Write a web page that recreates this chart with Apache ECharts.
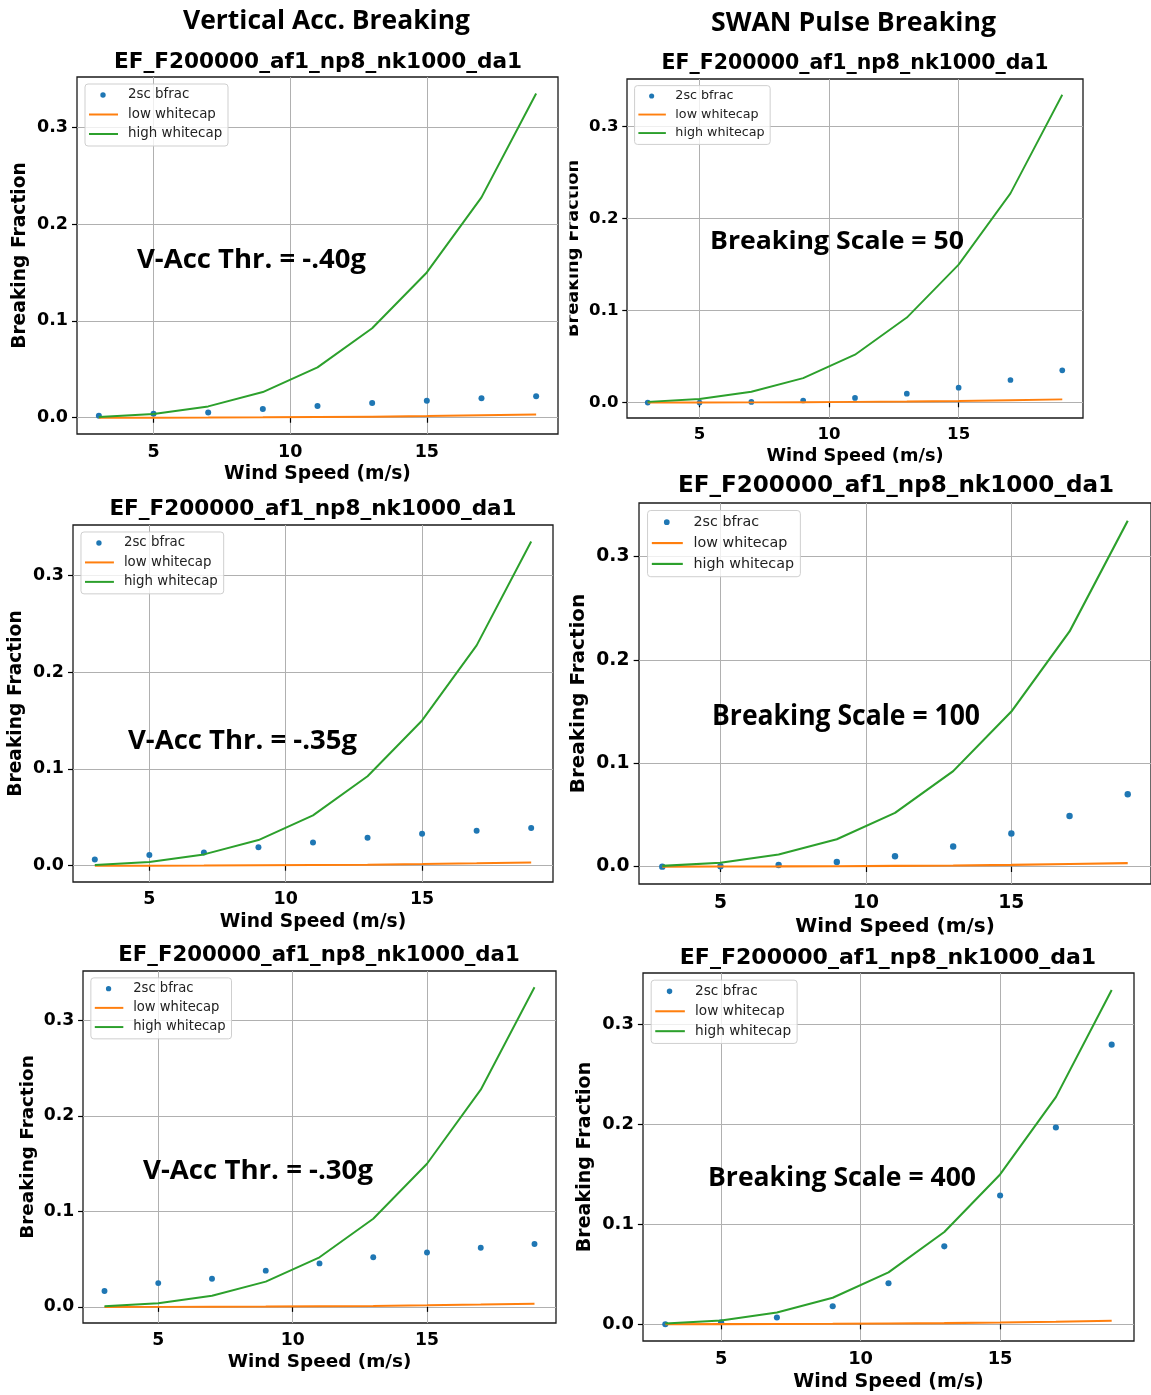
<!DOCTYPE html>
<html><head><meta charset="utf-8">
<script src="https://cdn.jsdelivr.net/npm/echarts@6/dist/echarts.min.js"></script>
<style>html,body{margin:0;padding:0;background:#fff}#c{width:1151px;height:1395px}</style>
</head><body><div id="c"></div>
<script>
// ---------------- data ----------------
const windSpeed = [3, 5, 7, 9, 11, 13, 15, 17, 19];
const lowWhitecap  = [0.00005, 0.0001, 0.0002, 0.0004, 0.0007, 0.0011, 0.0017, 0.0025, 0.0034];
const highWhitecap = [0.0007, 0.0038, 0.0117, 0.0265, 0.052, 0.0924, 0.150, 0.2275, 0.3347];
const bfracAcc40   = [0.002, 0.0041, 0.0055, 0.0089, 0.012, 0.0151, 0.0175, 0.020, 0.0223];
const bfracScale50 = [0.0, 0.0, 0.0007, 0.0022, 0.005, 0.0097, 0.0162, 0.0245, 0.035];
const bfracAcc35   = [0.0065, 0.011, 0.0137, 0.019, 0.024, 0.029, 0.033, 0.036, 0.039];
const bfracScale100= [0.0, 0.0003, 0.0016, 0.0045, 0.010, 0.0195, 0.032, 0.049, 0.070];
const bfracAcc30   = [0.0167, 0.025, 0.0296, 0.038, 0.0456, 0.052, 0.057, 0.062, 0.066];
const bfracScale400= [0.0, 0.002, 0.0067, 0.018, 0.041, 0.078, 0.129, 0.197, 0.28];
const xTicks = [5, 10, 15];
const yTicks = [0, 0.1, 0.2, 0.3];
const subplotTitle = 'EF_F200000_af1_np8_nk1000_da1';
const columnTitles = ['Vertical Acc. Breaking', 'SWAN Pulse Breaking'];
const annotations = ['V-Acc Thr. = -.40g', 'Breaking Scale = 50', 'V-Acc Thr. = -.35g',
                     'Breaking Scale = 100', 'V-Acc Thr. = -.30g', 'Breaking Scale = 400'];
const seriesNames = ['2sc bfrac', 'low whitecap', 'high whitecap'];
const xLabel = 'Wind Speed (m/s)';
const yLabel = 'Breaking Fraction';
const bfracSets = [bfracAcc40, bfracScale50, bfracAcc35, bfracScale100, bfracAcc30, bfracScale400];

// ---------------- layout ----------------
const layout = [
  {l: 77,  t: 77,  r: 558,  b: 434,  tx: 318, ty: 62,  ax: 137, ay: 260.5, aw: 229},
  {l: 627, t: 79,  r: 1083, b: 418,  tx: 855, ty: 64,  ax: 710, ay: 241.5, aw: 254},
  {l: 73,  t: 525, r: 553,  b: 882,  tx: 313, ty: 509, ax: 128, ay: 741.5, aw: 229},
  {l: 639, t: 503, r: 1153, b: 884,  tx: 896, ty: 486, ax: 712, ay: 716.5, aw: 268},
  {l: 83,  t: 971, r: 556,  b: 1323, tx: 319, ty: 955, ax: 143, ay: 1171.5, aw: 230},
  {l: 643, t: 973, r: 1134, b: 1341, tx: 888, ty: 958, ax: 708, ay: 1178.5, aw: 268}
];
const colTitleLayout = [{x: 183, y: 21.5, w: 287}, {x: 711, y: 23.5, w: 285}];

const C_BLUE = '#1f77b4', C_ORANGE = '#ff7f0e', C_GREEN = '#2ca02c';
const FONT = '"DejaVu Sans", sans-serif';
const CAL = '"Open Sans", "Noto Sans", sans-serif';

const mctx = document.createElement('canvas').getContext('2d');
function fitScale(text, font, w) { mctx.font = font; return w / mctx.measureText(text).width; }

const grids = [], xAxes = [], yAxes = [], series = [], graphics = [];

layout.forEach((p, i) => {
  const s = (p.r - p.l) / 481;
  grids.push({left: p.l, top: p.t, width: p.r - p.l, height: p.b - p.t, show: true,
    borderColor: '#1a1a1a', borderWidth: 1.3, backgroundColor: 'rgba(0,0,0,0)', containLabel: false});
  const tickLabel = {fontFamily: FONT, fontWeight: 'bold', fontSize: 17.5 * s, color: '#000'};
  const nameStyle = {fontFamily: FONT, fontWeight: 'bold', fontSize: 18.7 * s, color: '#000'};
  xAxes.push({gridIndex: i, type: 'value', min: 2.2, max: 19.8,
    axisLine: {show: false},
    axisTick: {show: true, customValues: xTicks, length: 5 * s, lineStyle: {color: '#000', width: 1.2}},
    axisLabel: Object.assign({customValues: xTicks, margin: 9 * s, formatter: v => String(v)}, tickLabel),
    splitLine: {show: true, lineStyle: {color: '#b0b0b0', width: 1}},
    name: xLabel, nameLocation: 'middle', nameGap: 31 * s, nameTextStyle: nameStyle});
  yAxes.push({gridIndex: i, type: 'value', min: -0.0168, max: 0.3518,
    axisLine: {show: false},
    axisTick: {show: true, customValues: yTicks, length: 5 * s, lineStyle: {color: '#000', width: 1.2}},
    axisLabel: Object.assign({customValues: yTicks, margin: 9 * s, formatter: v => v.toFixed(1)}, tickLabel),
    splitLine: {show: true, lineStyle: {color: '#b0b0b0', width: 1}},
    name: yLabel, nameLocation: 'middle', nameGap: 47 * s, nameTextStyle: nameStyle});

  const bf = bfracSets[i];
  series.push({name: seriesNames[0], type: 'scatter', xAxisIndex: i, yAxisIndex: i,
    symbolSize: 6 * s, itemStyle: {color: C_BLUE, opacity: 1},
    data: windSpeed.map((x, j) => [x, bf[j]]), z: 2});
  series.push({name: seriesNames[1], type: 'line', xAxisIndex: i, yAxisIndex: i,
    symbol: 'none', showSymbol: false, lineStyle: {color: C_ORANGE, width: 2 * s}, itemStyle: {color: C_ORANGE},
    data: windSpeed.map((x, j) => [x, lowWhitecap[j]]), z: 3});
  series.push({name: seriesNames[2], type: 'line', xAxisIndex: i, yAxisIndex: i,
    symbol: 'none', showSymbol: false, lineStyle: {color: C_GREEN, width: 2 * s}, itemStyle: {color: C_GREEN},
    data: windSpeed.map((x, j) => [x, highWhitecap[j]]), z: 4});

  // subplot title
  graphics.push({type: 'text', x: p.tx, y: p.ty, z: 50,
    style: {text: subplotTitle, font: `bold ${21.6 * s}px ${FONT}`, fill: '#000',
      textAlign: 'center', align: 'center', textVerticalAlign: 'middle', verticalAlign: 'middle'}});

  // annotation
  const afont = `bold ${27 * s}px ${CAL}`;
  graphics.push({type: 'text', x: p.ax, y: p.ay, scaleX: fitScale(annotations[i], afont, p.aw), z: 50,
    style: {text: annotations[i], font: afont, fill: '#000',
      textAlign: 'left', align: 'left', textVerticalAlign: 'middle', verticalAlign: 'middle'}});

  // legend
  const bx = p.l + 8 * s, by = p.t + 7 * s;
  graphics.push({type: 'rect', z: 40, shape: {x: bx, y: by, width: 143 * s, height: 62 * s, r: 3 * s},
    style: {fill: 'rgba(255,255,255,0.8)', stroke: '#cfcfcf', lineWidth: 1}});
  const rows = [11, 30.5, 50].map(v => by + v * s);
  graphics.push({type: 'circle', z: 41, shape: {cx: bx + 18 * s, cy: rows[0], r: 2.7 * s}, style: {fill: C_BLUE}});
  graphics.push({type: 'line', z: 41, shape: {x1: bx + 4 * s, y1: rows[1], x2: bx + 33 * s, y2: rows[1]},
    style: {stroke: C_ORANGE, lineWidth: 2 * s}});
  graphics.push({type: 'line', z: 41, shape: {x1: bx + 4 * s, y1: rows[2], x2: bx + 33 * s, y2: rows[2]},
    style: {stroke: C_GREEN, lineWidth: 2 * s}});
  seriesNames.forEach((n, k) => {
    graphics.push({type: 'text', z: 41, x: bx + 43 * s, y: rows[k],
      style: {text: n, font: `${13.4 * s}px ${FONT}`, fill: '#222',
        textAlign: 'left', align: 'left', textVerticalAlign: 'middle', verticalAlign: 'middle'}});
  });
});

// column titles
columnTitles.forEach((t, i) => {
  const c = colTitleLayout[i];
  const f = `bold 27px ${CAL}`;
  graphics.push({type: 'text', x: c.x, y: c.y, scaleX: fitScale(t, f, c.w), z: 50,
    style: {text: t, font: f, fill: '#000', textAlign: 'left', align: 'left',
      textVerticalAlign: 'middle', verticalAlign: 'middle'}});
});

// crop edge of the original composite (right panel's y label partly cut)
graphics.push({type: 'rect', z: 60, shape: {x: 560, y: 130, width: 9.5, height: 240}, style: {fill: '#fff'}});

const chart = echarts.init(document.getElementById('c'), null, {renderer: 'canvas'});
chart.setOption({
  animation: false,
  backgroundColor: '#fff',
  grid: grids, xAxis: xAxes, yAxis: yAxes, series: series,
  graphic: {elements: graphics}
});
</script></body></html>
